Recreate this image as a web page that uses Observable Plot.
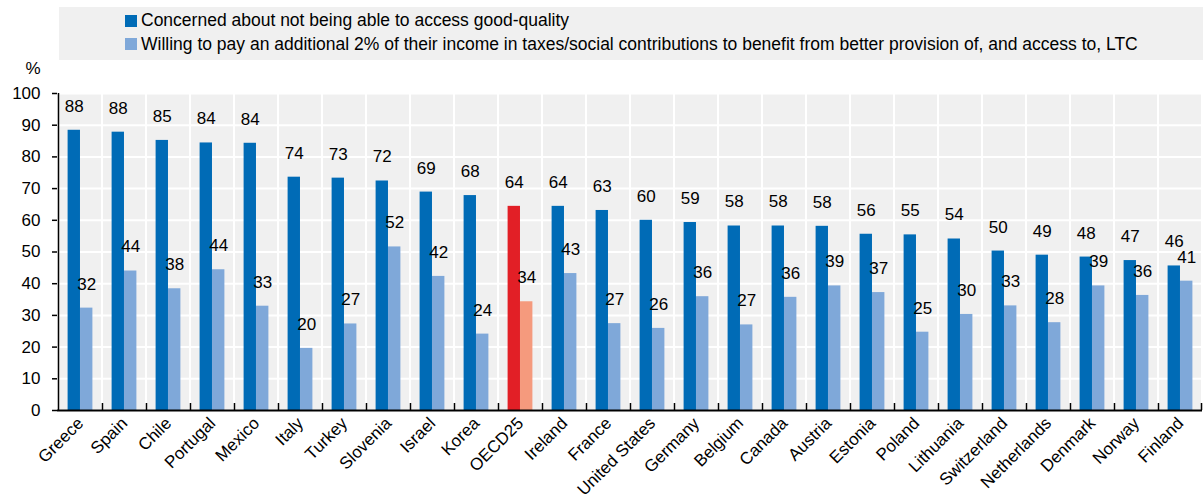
<!DOCTYPE html>
<html><head><meta charset="utf-8">
<script src="https://cdn.jsdelivr.net/npm/d3@7"></script>
<script src="https://cdn.jsdelivr.net/npm/@observablehq/plot@0.6"></script>
<style>
body{margin:0;background:#fff;font-family:"Liberation Sans",Arial,sans-serif;}
#legend{position:absolute;left:59px;top:7px;width:1144px;height:53px;background:#f0f0f0;box-sizing:border-box;padding:2px 0 0 66px;font-size:17.5px;color:#000}
.row{height:23.5px;line-height:23.5px;display:flex;align-items:center;white-space:nowrap}
.sw{width:12px;height:12px;margin-right:4px;flex:none}
#chart{position:absolute;left:0;top:60px}
</style></head>
<body>
<div id="legend"></div>
<div id="chart"></div>
<script>
const countries = ["Greece","Spain","Chile","Portugal","Mexico","Italy","Turkey","Slovenia","Israel","Korea","OECD25","Ireland","France","United States","Germany","Belgium","Canada","Austria","Estonia","Poland","Lithuania","Switzerland","Netherlands","Denmark","Norway","Finland"];
const concerned = [88.4,87.8,85.2,84.4,84.3,73.6,73.3,72.4,68.9,67.8,64.4,64.4,63.1,60.0,59.3,58.2,58.2,58.1,55.6,55.4,54.1,50.3,49.0,48.4,47.3,45.6];
const willing = [32.3,44.0,38.4,44.4,32.9,19.6,27.3,51.6,42.3,24.1,34.3,43.2,27.4,25.9,35.9,27.0,35.7,39.3,37.2,24.7,30.3,33.0,27.7,39.3,36.3,40.8];
const seriesNames = ["Concerned about not being able to access good-quality","Willing to pay an additional 2% of their income in taxes/social contributions to benefit from better provision of, and access to, LTC"];
const yTicks = [0,10,20,30,40,50,60,70,80,90,100];
const highlight = "OECD25";
const colDark = "#006bb6", colLight = "#7fa8d9", colRed = "#e21f26", colSalmon = "#f59a7d";
const FONT = "'Liberation Sans', Arial, sans-serif";

const data = countries.map((c,i)=>({country:c, concerned:concerned[i], willing:willing[i]}));

// legend
const leg = document.getElementById("legend");
[[seriesNames[0], colDark],[seriesNames[1], colLight]].forEach(([t,c])=>{
  const r = document.createElement("div"); r.className="row";
  const s = document.createElement("span"); s.className="sw"; s.style.background=c;
  const tx = document.createElement("span"); tx.textContent=t;
  r.appendChild(s); r.appendChild(tx); leg.appendChild(r);
});

const W=1203, H=440, mL=57, mR=1, mT=33, mB=90;
const bw = (W-mL-mR)/countries.length;

const chart = Plot.plot({
  width:W, height:H, marginLeft:mL, marginRight:mR, marginTop:mT, marginBottom:mB,
  style:{fontFamily:FONT, fontSize:"17px", color:"#000", background:"#fff"},
  x:{type:"band", domain:countries, padding:0},
  y:{domain:[0,100]},
  marks:[
    Plot.barY(countries, {x:d=>d, y1:0, y2:100, fill:"#f0f0f0", insetLeft:1, insetRight:1}),
    Plot.gridY(yTicks, {stroke:"#fff", strokeOpacity:1, strokeWidth:2}),
    Plot.barY(data, {x:"country", y:"concerned", fill:d=>d.country===highlight?colRed:colDark, insetLeft:9.6, insetRight:bw/2}),
    Plot.barY(data, {x:"country", y:"willing", fill:d=>d.country===highlight?colSalmon:colLight, insetLeft:bw/2, insetRight:9.6}),
    Plot.text(data, {x:"country", y:"concerned", text:d=>String(Math.round(d.concerned)), dx:-6.2, dy:-24, fontSize:17}),
    Plot.text(data, {x:"country", y:"willing", text:d=>String(Math.round(d.willing)), dx:6.2, dy:-24, fontSize:17}),
    Plot.ruleY([0], {stroke:"#000", strokeWidth:2}),
    Plot.ruleX([countries[0]], {x:d=>d, dx:-bw/2, y1:0, y2:100, stroke:"#000", strokeWidth:1.5}),
    Plot.ruleX(countries.slice(1), {x:d=>d, dx:-bw/2, y1:0, y2:2.2, stroke:"#000", strokeWidth:1.5}),
    Plot.ruleX([countries[countries.length-1]], {x:d=>d, dx:bw/2-1, y1:0, y2:2.2, stroke:"#000", strokeWidth:1.5}),
    Plot.axisY({ticks:yTicks, tickSize:5, tickPadding:12, label:null, fontSize:17, strokeWidth:1.5}),
    Plot.axisX({tickRotate:-45, tickSize:0, tickPadding:10, label:null, fontSize:17}),
    Plot.text(["%"], {frameAnchor:"top-left", text:d=>d, lineAnchor:"middle", dx:-32, dy:-25, fontSize:17})
  ]
});
document.getElementById("chart").appendChild(chart);
</script>
</body></html>
